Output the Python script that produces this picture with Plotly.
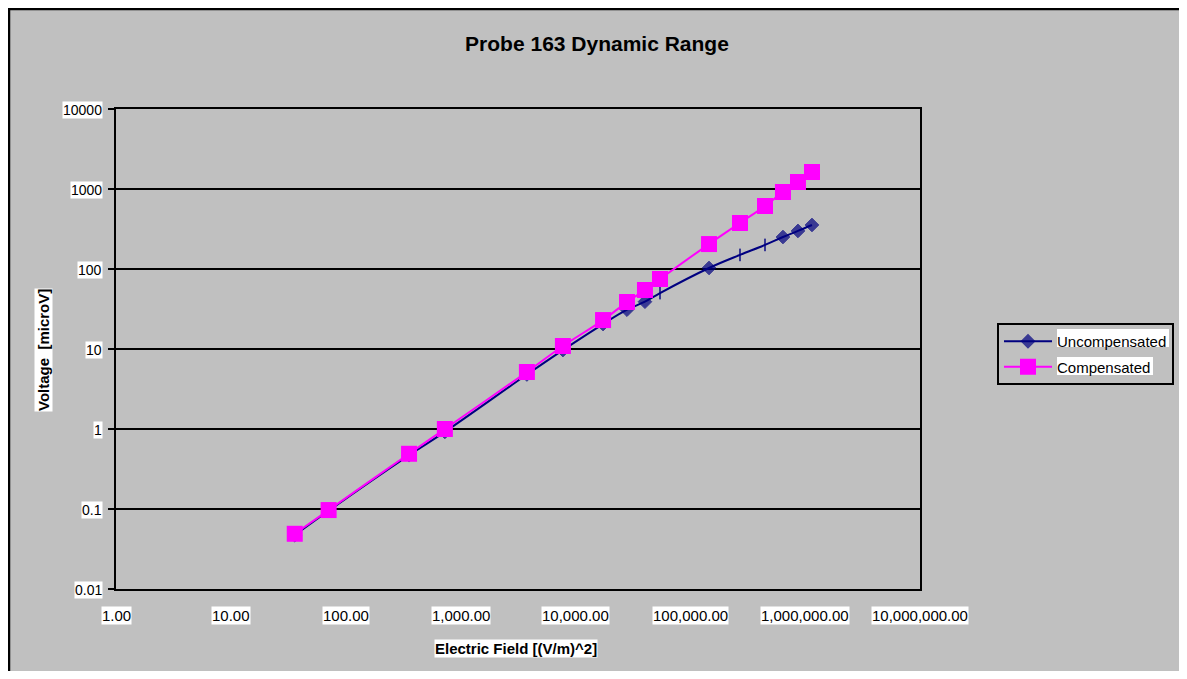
import math
import plotly.graph_objects as go

# ---------------- data ----------------
e_field = [36, 71, 356, 730, 3780, 7780, 17400, 28100, 40300, 54500,
           145600, 270800, 447000, 641000, 866000, 1147000]
uncompensated = [0.047, 0.095, 0.47, 0.92, 4.8, 9.7, 20.5, 31, 39, 50,
                 103, 150, 200, 251, 299, 355]
compensated = [0.049, 0.097, 0.49, 1.0, 5.16, 10.9, 23.0, 38.7, 54.6, 75.0,
               205, 376, 613, 917, 1223, 1631]
# points of the uncompensated series drawn as a dash instead of a diamond
uncomp_dash_points = [54500, 270800, 447000]

x_tick_values = [1, 10, 100, 1000, 10000, 100000, 1000000, 10000000]
x_tick_labels = ["1.00", "10.00", "100.00", "1,000.00", "10,000.00",
                 "100,000.00", "1,000,000.00", "10,000,000.00"]
y_tick_values = [0.01, 0.1, 1, 10, 100, 1000, 10000]
y_tick_labels = ["0.01", "0.1", "1", "10", "100", "1000", "10000"]

title_text = "Probe 163 Dynamic Range"
x_title = "Electric Field [(V/m)^2]"
y_title = "Voltage\u00a0 [microV]"
series_names = ["Uncompensated", "Compensated"]

# ---------------- layout constants ----------------
OFF = 8  # page offset of the figure (body margin)
W, H = 1187 - 2 * OFF, 679 - 2 * OFF
# plot area in page pixels: x 116..920, y 109..589
L = 116 - OFF
T = 109 - OFF
PW = 920 - 116
PH = 589 - 109
R = W - L - PW
B = H - T - PH
FONT = "Liberation Sans, Arial, sans-serif"
BG = "#C0C0C0"
NAVY = "#000080"
MAGENTA = "#FF00FF"


def pxx(px):
    """page pixel x -> paper x"""
    return (px - OFF - L) / PW


def pxy(py):
    """page pixel y -> paper y"""
    return (T + PH - (py - OFF)) / PH


unc_symbols = ["line-ns" if x in uncomp_dash_points else "diamond" for x in e_field]
unc_sizes = [9 if x in uncomp_dash_points else 10.5 for x in e_field]
unc_lw = [2 if x in uncomp_dash_points else 1 for x in e_field]

fig = go.Figure()
fig.add_trace(go.Scatter(
    x=e_field, y=uncompensated, name=series_names[0], mode="lines+markers",
    legendgroup="a",
    line=dict(color=NAVY, width=2, shape="spline"),
    marker=dict(symbol=unc_symbols, size=unc_sizes, color=NAVY,
                line=dict(color=NAVY, width=unc_lw)),
))
fig.add_trace(go.Scatter(
    x=e_field, y=compensated, name=series_names[1], mode="lines+markers",
    legendgroup="b",
    line=dict(color=MAGENTA, width=2, shape="spline"),
    marker=dict(symbol="square", size=16, color=MAGENTA,
                line=dict(color=MAGENTA, width=0)),
))

annotations = []
for v, lab in zip(x_tick_values, x_tick_labels):
    annotations.append(dict(
        x=math.log10(v), xref="x", y=0, yref="paper", yanchor="top",
        yshift=-17, xanchor="center", text=lab, showarrow=False,
        bgcolor="white", borderpad=0, font=dict(family=FONT, size=15, color="black")))
for v, lab in zip(y_tick_values, y_tick_labels):
    annotations.append(dict(
        x=0, xref="paper", xanchor="right", xshift=-13, y=math.log10(v), yref="y",
        yanchor="middle", yshift=-1, text=lab, showarrow=False, bgcolor="white",
        borderpad=0, font=dict(family=FONT, size=14, color="black")))
annotations.append(dict(
    x=pxx(516), xref="paper", y=pxy(648), yref="paper", xanchor="center",
    yanchor="middle", text="<b>" + x_title + "</b>", showarrow=False,
    bgcolor="white", borderpad=0, font=dict(family=FONT, size=15, color="black")))
annotations.append(dict(
    x=pxx(43), xref="paper", y=pxy(350), yref="paper", xanchor="center",
    yanchor="middle", textangle=-90, text="<b>" + y_title + "</b>", showarrow=False,
    bgcolor="white", borderpad=0, font=dict(family=FONT, size=15, color="black")))

shapes = [
    # chart frame: only its left and top edges are inside the picture
    dict(type="line", xref="paper", yref="paper", layer="above",
         x0=pxx(OFF + 1), x1=pxx(OFF + 1), y0=pxy(OFF), y1=pxy(OFF + H),
         line=dict(color="black", width=2.5)),
    dict(type="line", xref="paper", yref="paper", layer="above",
         x0=pxx(OFF), x1=pxx(OFF + W), y0=pxy(OFF + 1), y1=pxy(OFF + 1),
         line=dict(color="black", width=2.5)),
    # white highlight behind legend texts
    dict(type="rect", xref="paper", yref="paper", layer="above",
         x0=pxx(1057), x1=pxx(1169), y0=pxy(329), y1=pxy(347),
         fillcolor="white", line=dict(width=0)),
    dict(type="rect", xref="paper", yref="paper", layer="above",
         x0=pxx(1057), x1=pxx(1153), y0=pxy(357), y1=pxy(375),
         fillcolor="white", line=dict(width=0)),
]

fig.update_layout(
    width=W, height=H,
    margin=dict(l=L, r=R, t=T, b=B, autoexpand=False),
    paper_bgcolor=BG, plot_bgcolor=BG,
    title=dict(text="<b>" + title_text + "</b>", x=(597 - OFF) / W, xref="container",
               xanchor="center", y=1 - (44 - OFF) / H, yref="container",
               yanchor="middle",
               font=dict(family=FONT, size=21, color="black")),
    xaxis=dict(type="log", range=[0, 7], showgrid=False, zeroline=False,
               showline=True, linecolor="black", linewidth=2, mirror=True,
               ticks="", showticklabels=False),
    yaxis=dict(type="log", range=[-2, 4], showgrid=True, gridcolor="black",
               gridwidth=2, zeroline=False, showline=True, linecolor="black",
               linewidth=2, mirror=True, ticks="outside", ticklen=6,
               tickwidth=2, tickcolor="black", showticklabels=False,
               tickvals=y_tick_values),
    legend=dict(x=pxx(997), y=pxy(323), xanchor="left", yanchor="top",
                bgcolor="rgba(0,0,0,0)", bordercolor="black", borderwidth=2,
                font=dict(family=FONT, size=15, color="black"),
                itemwidth=48, tracegroupgap=3),
    showlegend=True,
    annotations=annotations,
    shapes=shapes,
)

fig.write_html("out.html")
